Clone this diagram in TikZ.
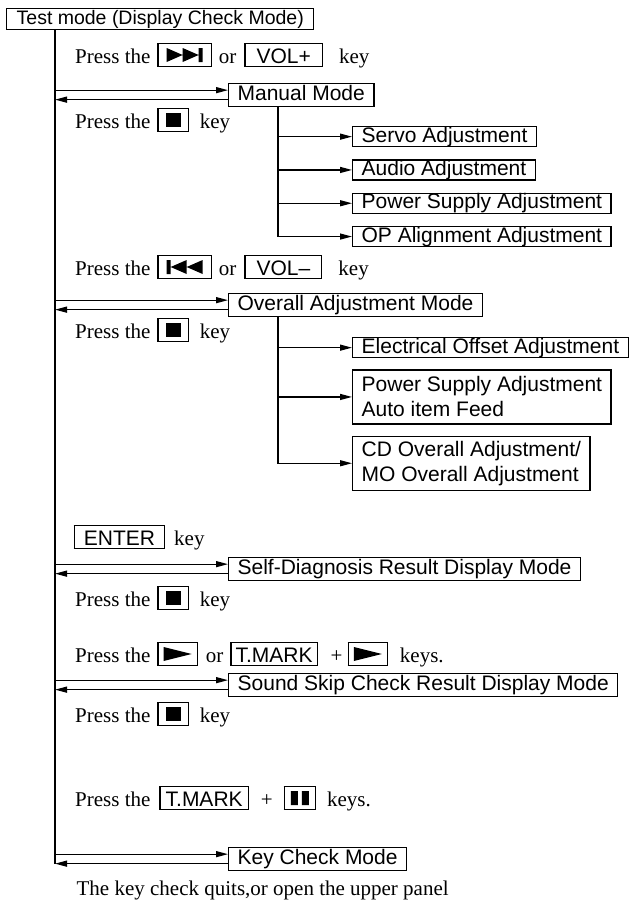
\documentclass[tikz,border=0pt]{standalone}
\usepackage{fontspec}
\setmainfont{Liberation Serif}
\setsansfont{Liberation Sans}
\usetikzlibrary{positioning,arrows.meta}

\newcommand{\diagsize}{\fontsize{21}{25}\selectfont}
\newcommand{\keycap}[2][8pt]{{\setlength{\fboxsep}{0pt}\setlength{\fboxrule}{1.2pt}\fbox{\rule[-3pt]{0pt}{22pt}\hspace{#1}\sffamily #2\hspace{#1}}}}
\newcommand{\glyphnext}{\tikz[x=1pt,y=1pt,baseline=-1pt]{\fill (0,0)--(16,7)--(0,14)--cycle (16,0)--(32,7)--(16,14)--cycle (32,0) rectangle (36,14);}}
\newcommand{\glyphprev}{\tikz[x=1pt,y=1pt,baseline=-1pt]{\fill (0,0) rectangle (4,14) (20,0)--(4,7)--(20,14)--cycle (36,0)--(20,7)--(36,14)--cycle;}}
\newcommand{\glyphstop}{\tikz[x=1pt,y=1pt,baseline=-1pt]{\fill (0,0) rectangle (15,14);}}
\newcommand{\glyphplay}{\tikz[x=1pt,y=1pt,baseline=-1pt]{\fill (0,0)--(28,7)--(0,14)--cycle;}}
\newcommand{\glyphpause}{\tikz[x=1pt,y=1pt,baseline=-1pt]{\fill (0,0) rectangle (7,14) (11,0) rectangle (18,14);}}

\begin{document}
\begin{tikzpicture}[x=1pt, y=-1pt, line width=1.3pt, font=\diagsize]
\tikzstyle{mode}=[draw, font=\sffamily\diagsize, anchor=north west, inner xsep=9pt, inner ysep=2pt, text height=15pt, text depth=4pt]
\tikzstyle{sub}=[mode, inner ysep=0.5pt]
\tikzstyle{subtwo}=[draw, font=\sffamily\diagsize, anchor=north west, align=left, inner xsep=9pt, minimum height=54pt]
\tikzstyle{note}=[anchor=base west, inner sep=0pt]
\tikzstyle{flow}=[-{Triangle[length=12pt,width=6pt]}]
\useasboundingbox (0,0) rectangle (630,902);

\node[mode, font=\sffamily\fontsize{19.5}{24}\selectfont, inner xsep=10pt, inner ysep=1pt] (test) at (6,8) {Test mode (Display Check Mode)};
\coordinate (trunk) at ([xshift=49pt]test.south west);

% modes on the trunk
\node[mode] (manual) at (228,83) {Manual Mode};
\node[mode] (overall) at (228,293) {Overall Adjustment Mode};
\node[mode] (selfdiag) at (228,557) {Self-Diagnosis Result Display Mode};
\node[mode] (soundskip) at (228,673) {Sound Skip Check Result Display Mode};
\node[mode] (keycheck) at (228,847) {Key Check Mode};

% manual mode items
\node[sub] (servo) at (352,126) {Servo Adjustment};
\node[sub, below=12pt of servo.south west, anchor=north west] (audio) {Audio Adjustment};
\node[sub, below=12pt of audio.south west, anchor=north west] (psu) {Power Supply Adjustment};
\node[sub, below=12pt of psu.south west, anchor=north west] (opalign) {OP Alignment Adjustment};

% overall mode items
\node[sub] (offset) at (352,337) {Electrical Offset Adjustment};
\node[subtwo, below=11pt of offset.south west, anchor=north west] (autofeed) {Power Supply Adjustment\\Auto item Feed};
\node[subtwo, below=11pt of autofeed.south west, anchor=north west] (cdmo) {CD Overall Adjustment/\\MO Overall Adjustment};

% key presses
\node[note] (rowNext) at (75,63) {Press the\hspace{7pt}\keycap{\glyphnext}\hspace{7pt}or\hspace{8pt}\keycap[11pt]{VOL+}\hspace{16pt}key};
\node[note] (rowStopA) at (75,128) {Press the\hspace{7pt}\keycap[7pt]{\glyphstop}\hspace{11pt}key};
\node[note] (rowPrev) at (75,275) {Press the\hspace{7pt}\keycap{\glyphprev}\hspace{7pt}or\hspace{8pt}\keycap[11pt]{VOL–}\hspace{16pt}key};
\node[note] (rowStopB) at (75,338) {Press the\hspace{7pt}\keycap[7pt]{\glyphstop}\hspace{11pt}key};
\node[note] (rowEnter) at (73,545) {\keycap[9pt]{ENTER}\hspace{9pt}key};
\node[note] (rowStopC) at (75,606) {Press the\hspace{7pt}\keycap[7pt]{\glyphstop}\hspace{11pt}key};
\node[note] (rowPlay) at (75,662) {Press the\hspace{7pt}\keycap[5pt]{\glyphplay}\hspace{8pt}or\hspace{7pt}\keycap[4pt]{T.MARK}\hspace{13pt}+\hspace{5pt}\keycap[5pt]{\glyphplay}\hspace{12pt}keys.};
\node[note] (rowStopD) at (75,722) {Press the\hspace{7pt}\keycap[7pt]{\glyphstop}\hspace{11pt}key};
\node[note] (rowPause) at (75,806) {Press the\hspace{9pt}\keycap[5pt]{T.MARK}\hspace{12pt}+\hspace{11pt}\keycap[6pt]{\glyphpause}\hspace{11pt}keys.};
\node[note] (quitNote) at (76,895) {The key check quits,or open the upper panel};

% trunk and in/out arrows
\draw (trunk) -- ([yshift=-4.5pt]keycheck.west -| trunk);
\foreach \m in {manual,overall,selfdiag,soundskip,keycheck} {
  \path ([yshift=5pt]\m.west) coordinate (in\m) ([yshift=-4.5pt]\m.west) coordinate (out\m);
  \draw[flow] (in\m -| trunk) -- (in\m);
  \draw[flow] (out\m) -- (out\m -| trunk);
}

% branches to the items
\coordinate (manualbus) at ([xshift=50pt]manual.south west);
\foreach \n in {servo,audio,psu,opalign}
  \draw[flow] (manualbus) |- (\n.west);
\coordinate (overallbus) at ([xshift=50pt]overall.south west);
\foreach \n in {offset,autofeed,cdmo}
  \draw[flow] (overallbus) |- (\n.west);
\end{tikzpicture}
\end{document}
